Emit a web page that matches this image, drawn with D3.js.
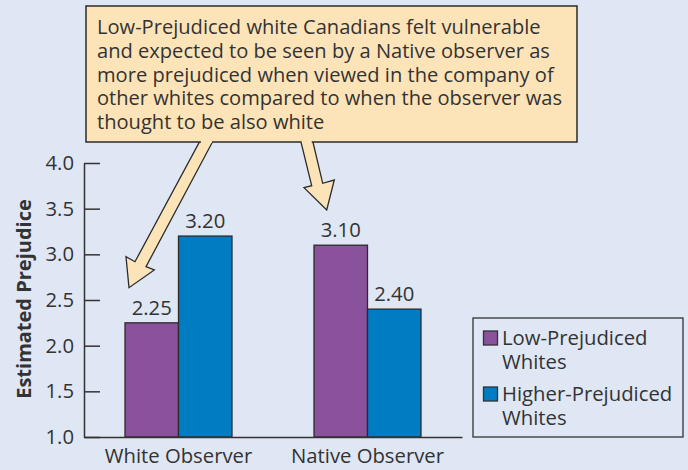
<!DOCTYPE html>
<html>
<head>
<meta charset="utf-8">
<script src="https://cdn.jsdelivr.net/npm/d3@7"></script>
<style>
  html, body { margin: 0; padding: 0; background: #dfe6f4; }
  svg { display: block; }
  text { font-family: "Open Sans", "Noto Sans", sans-serif; fill: #333; font-variant-ligatures: none; }
</style>
</head>
<body>
<svg id="chart" width="688" height="470"></svg>
<script>
const categories = ["White Observer", "Native Observer"];
const seriesNames = ["Low-Prejudiced Whites", "Higher-Prejudiced Whites"];
const legendLines = [["Low-Prejudiced", "Whites"], ["Higher-Prejudiced", "Whites"]];
const lowPrejudiced = [2.25, 3.10];
const higherPrejudiced = [3.20, 2.40];
const yTicks = [1.0, 1.5, 2.0, 2.5, 3.0, 3.5, 4.0];
const yTitle = "Estimated Prejudice";
const calloutLines = [
  "Low-Prejudiced white Canadians felt vulnerable",
  "and expected to be seen by a Native observer as",
  "more prejudiced when viewed in the company of",
  "other whites compared to when the observer was",
  "thought to be also white"
];
const colors = ["#8a529d", "#007cc3"];

const FS = 20.3;
const svg = d3.select("#chart");
svg.append("rect").attr("width", 688).attr("height", 470).attr("fill", "#dfe6f4");

const x0 = d3.scaleBand().domain(categories).range([84, 462]).paddingInner(0.434).paddingOuter(0.217);
const x1 = d3.scaleBand().domain(seriesNames).range([0, x0.bandwidth()]);
const y = d3.scaleLinear().domain([1, 4]).range([437, 163]);

const data = categories.map((c, i) => ({cat: c, vals: [lowPrejudiced[i], higherPrejudiced[i]]}));

// bars
const groups = svg.append("g").selectAll("g").data(data).join("g")
  .attr("transform", d => `translate(${x0(d.cat)},0)`);
groups.selectAll("rect").data(d => d.vals.map((v, j) => ({v, s: seriesNames[j], j})))
  .join("rect")
  .attr("x", d => x1(d.s))
  .attr("y", d => y(d.v))
  .attr("width", x1.bandwidth())
  .attr("height", d => y(1) - y(d.v))
  .attr("fill", d => colors[d.j])
  .attr("stroke", "#2b2b2b")
  .attr("stroke-width", 1.3);
groups.selectAll("text.val").data(d => d.vals.map((v, j) => ({v, s: seriesNames[j], j})))
  .join("text")
  .attr("class", "val")
  .attr("x", d => x1(d.s) + x1.bandwidth() / 2)
  .attr("y", d => y(d.v) - 8)
  .attr("text-anchor", "middle")
  .style("font-size", FS + "px")
  .text(d => d.v.toFixed(2));

// y axis
const yAxis = d3.axisLeft(y).tickValues(yTicks).tickFormat(d3.format(".1f"))
  .tickSizeInner(-16).tickSizeOuter(0).tickPadding(10);
const gy = svg.append("g").attr("transform", "translate(84,0)").call(yAxis);
gy.select(".domain").attr("stroke", "#333").attr("stroke-width", 1.5);
gy.selectAll(".tick line").attr("stroke", "#333").attr("stroke-width", 1.5);
gy.selectAll(".tick text").style("font-size", FS + "px").attr("fill", "#333");

// x axis
const xAxis = d3.axisBottom(x0).tickSize(0).tickPadding(9);
const gx = svg.append("g").attr("transform", "translate(0,437)").call(xAxis);
gx.select(".domain").attr("stroke", "#333").attr("stroke-width", 1.5);
gx.selectAll(".tick text").style("font-size", FS + "px").attr("fill", "#333").attr("dy", "0.85em");

// y title
svg.append("text")
  .attr("transform", "translate(31,299) rotate(-90)")
  .attr("text-anchor", "middle")
  .style("font-size", "20px").style("font-weight", "bold")
  .text(yTitle);

// legend
const lg = svg.append("g");
lg.append("rect").attr("x", 473).attr("y", 318).attr("width", 210).attr("height", 119)
  .attr("fill", "none").attr("stroke", "#333").attr("stroke-width", 1.3);
legendLines.forEach((lines, i) => {
  const top = 331 + i * 56;
  lg.append("rect").attr("x", 483.5).attr("y", top).attr("width", 14).attr("height", 14)
    .attr("fill", colors[i]).attr("stroke", "#333").attr("stroke-width", 1.3);
  lines.forEach((t, k) => {
    lg.append("text").attr("x", 502).attr("y", top + 14 + k * 23.5)
      .style("font-size", FS + "px").text(t);
  });
});

// arrows (callout)
const arrowPts = [
  [[200,141],[213,141],[146,266.7],[154.3,270],[129,287.7],[126,256.7],[135,261.7]],
  [[300.7,141],[312.7,141],[322.7,183.3],[334.3,180],[326.7,210],[304,187.7],[311.7,185.7]]
];
arrowPts.forEach(p => {
  svg.append("path").attr("d", d3.line()(p) + "Z")
    .attr("fill", "#fde4b8").attr("stroke", "#2b2b2b").attr("stroke-width", 1.3)
    .attr("stroke-linejoin", "miter");
});

// callout box
svg.append("rect").attr("x", 86).attr("y", 6).attr("width", 491).attr("height", 136)
  .attr("fill", "#fde4b8").attr("stroke", "#2b2b2b").attr("stroke-width", 1.5);
arrowPts.forEach(p => {
  svg.append("rect").attr("x", p[0][0] + 1).attr("y", 139).attr("width", p[1][0] - p[0][0] - 2).attr("height", 4)
    .attr("fill", "#fde4b8");
});
calloutLines.forEach((t, i) => {
  svg.append("text").attr("x", 97).attr("y", 34 + i * 23.8)
    .style("font-size", "20.1px").text(t);
});
</script>
</body>
</html>
